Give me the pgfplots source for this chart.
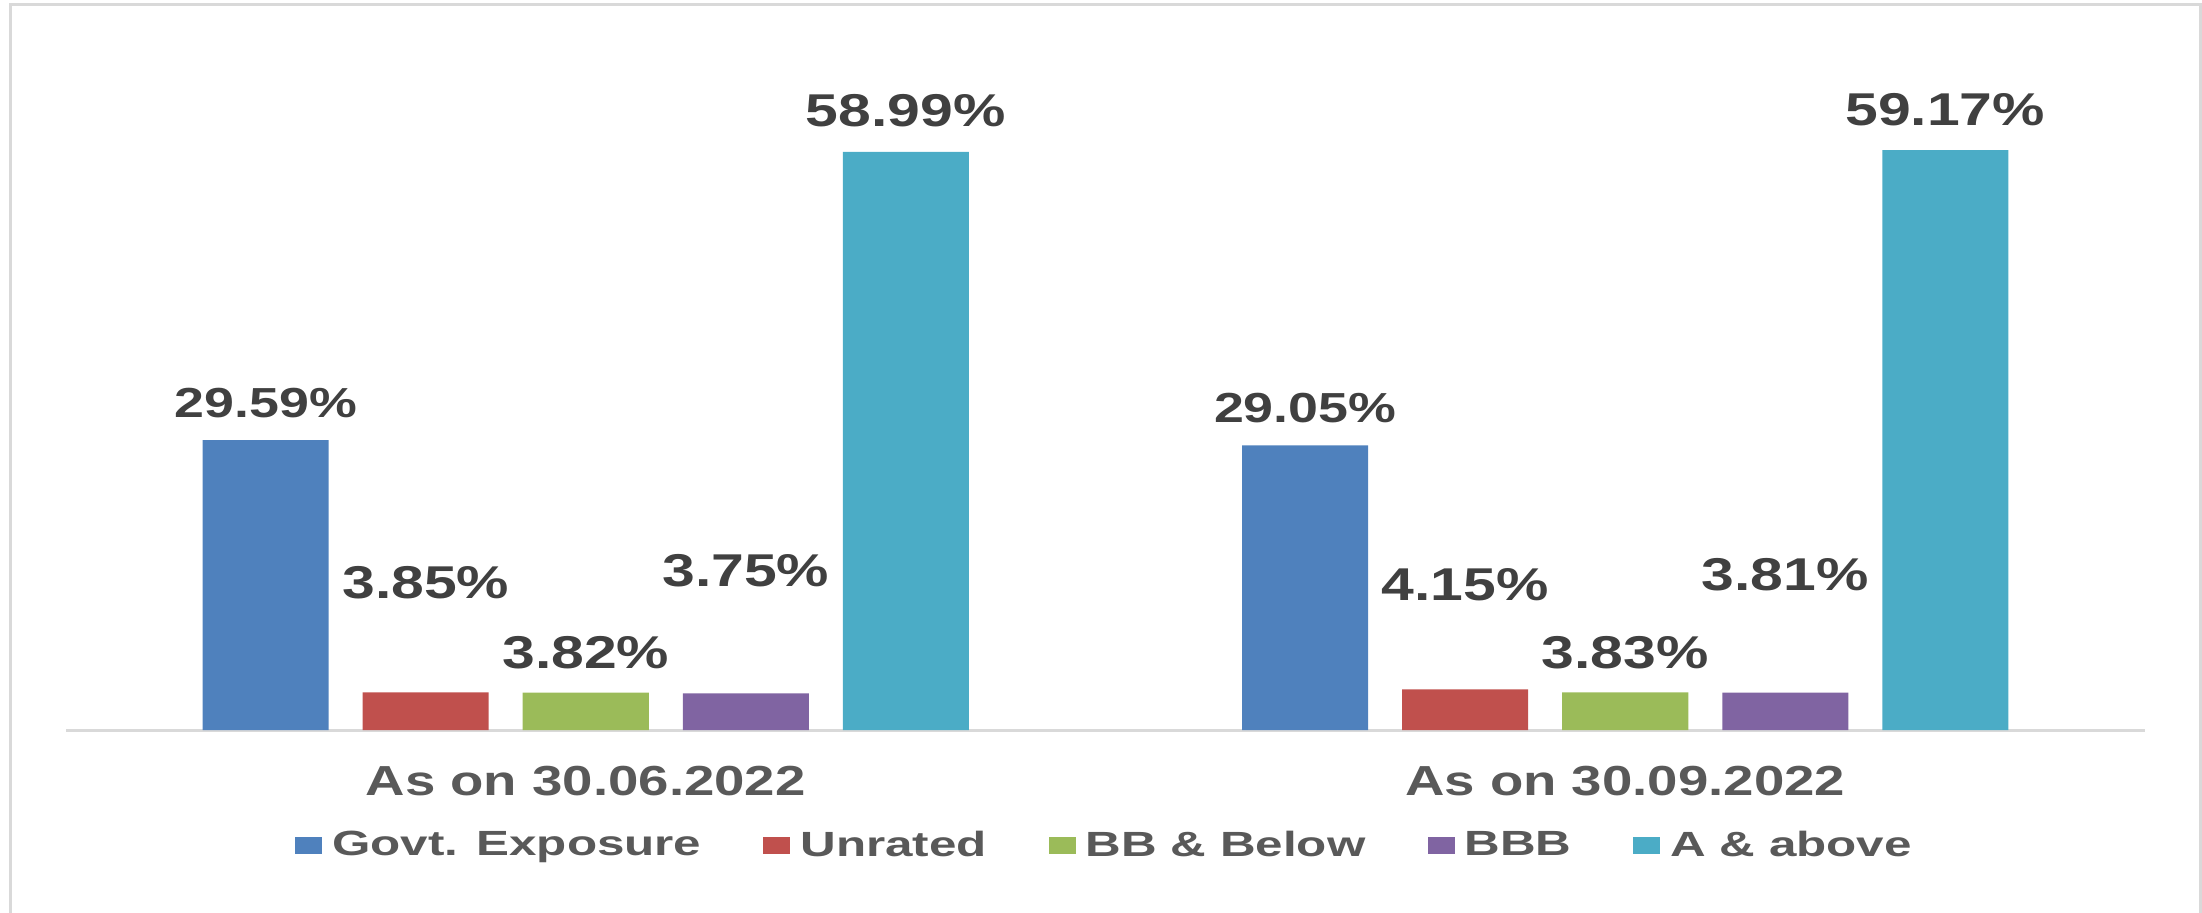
\documentclass[border=0pt]{standalone}
\usepackage{pgfplots}
\pgfplotsset{compat=1.18}
\usepackage{pgfplotstable}
\usepackage{fontspec}
\setmainfont{Liberation Sans}
\newfontfamily\datafont{Liberation Sans}[FakeStretch=1.28]
\newfontfamily\catfont{Liberation Sans}[FakeStretch=1.30]
\newfontfamily\legfont{Liberation Sans}[FakeStretch=1.41]
\definecolor{cgovt}{HTML}{4F81BD}
\definecolor{cunr}{HTML}{C0504D}
\definecolor{cbb}{HTML}{9BBB59}
\definecolor{cbbb}{HTML}{8064A2}
\definecolor{ca}{HTML}{4BACC6}
\definecolor{lbl}{HTML}{404040}
\definecolor{txt}{HTML}{595959}
\definecolor{gridgray}{HTML}{D9D9D9}

\pgfplotstableread{
x y off
0 29.59 11.5
1 29.05 11.5
}\govt
\pgfplotstableread{
x y off
0 3.85 47
1 4.15 44.5
}\unrated
\pgfplotstableread{
x y off
0 3.82 12
1 3.83 12
}\bbbelow
\pgfplotstableread{
x y off
0 3.75 53.5
1 3.81 51
}\bbb
\pgfplotstableread{
x y off
0 58.99 12.5
1 59.17 12.5
}\aabove

\begin{document}
\begin{tikzpicture}
\path[use as bounding box] (-33pt,-91pt) rectangle (1068pt,365pt);
\clip (-33pt,-91pt) rectangle (1068pt,365pt);
\draw[gridgray, line width=1.5pt] (-27.5pt,-120pt) -- (-27.5pt,362.5pt) -- (1067pt,362.5pt) -- (1067pt,-120pt);
\begin{axis}[
  at={(0pt,0pt)}, anchor=south west,
  scale only axis, width=1039.5pt, height=343pt,
  xmin=-0.5, xmax=1.5, ymin=0, ymax=70,
  axis y line=none, axis x line*=bottom,
  x axis line style={draw=gridgray, line width=1.5pt},
  xtick={0,1}, xticklabels={As on 30.06.2022, As on 30.09.2022},
  major tick length=0pt, ytick=\empty,
  xticklabel style={anchor=base, yshift=-32.5pt, text=txt,
    font=\catfont\bfseries\fontsize{21pt}{25pt}\selectfont},
  ybar=17pt, bar width=63pt,
  clip=false,
  /pgf/number format/assume math mode=true,
  nodes near coords={\pgfmathprintnumber[fixed, fixed zerofill, precision=2]{\pgfplotspointmeta}\%},
  visualization depends on={\thisrow{off} \as \myoff},
  every node near coord/.append style={anchor=base, yshift=\myoff pt, text=lbl, inner sep=0pt,
    font=\datafont\bfseries\fontsize{23pt}{27pt}\selectfont},
  legend columns=5,
  legend style={at={(0.5,0)}, anchor=center, yshift=-57.5pt, draw=none, fill=none,
    font=\legfont\bfseries\fontsize{17.5pt}{21pt}\selectfont, text=txt,
    /tikz/every even column/.append style={column sep=29pt}},
  legend image code/.code={\fill[#1] (0pt,-4.25pt) rectangle (13.5pt,4.25pt); \path (16.5pt,0pt);},
]
\addplot[fill=cgovt, draw=none,
  every node near coord/.append style={font=\datafont\bfseries\fontsize{21pt}{25pt}\selectfont}]
  table[x=x, y=y] {\govt};
\addlegendentry{Govt. Exposure}
\addplot[fill=cunr, draw=none] table[x=x, y=y] {\unrated};
\addlegendentry{Unrated}
\addplot[fill=cbb, draw=none] table[x=x, y=y] {\bbbelow};
\addlegendentry{BB \& Below}
\addplot[fill=cbbb, draw=none] table[x=x, y=y] {\bbb};
\addlegendentry{BBB}
\addplot[fill=ca, draw=none] table[x=x, y=y] {\aabove};
\addlegendentry{A \& above}
\end{axis}
\end{tikzpicture}
\end{document}
